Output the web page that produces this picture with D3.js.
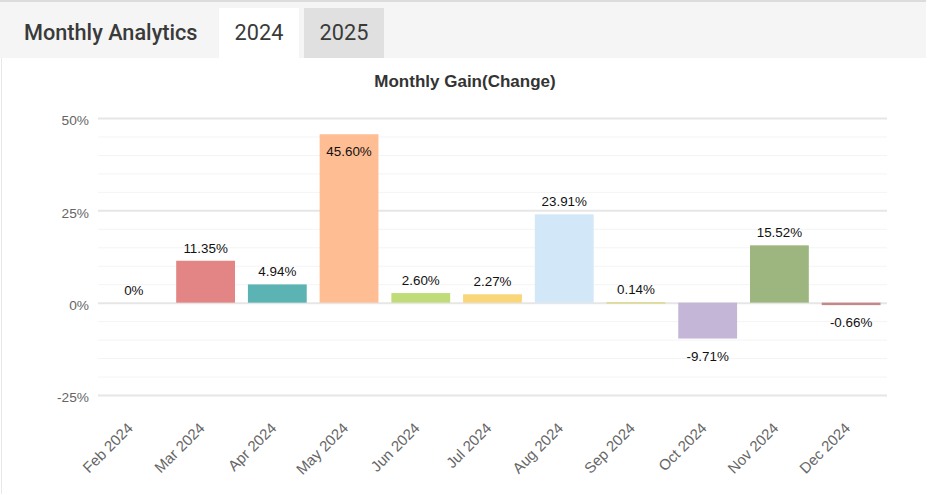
<!DOCTYPE html>
<html>
<head>
<meta charset="utf-8">
<script src="https://cdn.jsdelivr.net/npm/d3@7"></script>
<style>
  html, body { margin: 0; padding: 0; background: #fff; }
  body { width: 926px; height: 494px; overflow: hidden; }
</style>
</head>
<body>
<svg id="chart" width="926" height="494"></svg>
<script>
// data
var months = ['Feb 2024','Mar 2024','Apr 2024','May 2024','Jun 2024','Jul 2024','Aug 2024','Sep 2024','Oct 2024','Nov 2024','Dec 2024'];
var gains = [0, 11.35, 4.94, 45.60, 2.60, 2.27, 23.91, 0.14, -9.71, 15.52, -0.66];
var barColors = ['#cccccc','#e28584','#5bb4b3','#ffbd94','#c0dc78','#f9d679','#d2e7f8','#dcd88c','#c4b6d7','#9db67f','#c58888'];
var yTicks = [-25, 0, 25, 50];
var tabs = ['2024', '2025'];

const svg = d3.select('#chart');

// header strip
svg.append('rect').attr('x', 0).attr('y', 0).attr('width', 926).attr('height', 58).attr('fill', '#f5f5f5');
svg.append('line').attr('x1', 0).attr('x2', 926).attr('y1', 1).attr('y2', 1).style('stroke', '#dcdcdc').style('stroke-width', 2);
svg.append('line').attr('x1', 1.5).attr('x2', 1.5).attr('y1', 58).attr('y2', 494).style('stroke', '#e8e8e8');
svg.append('text').attr('x', 24).attr('y', 40)
  .style('font-family', 'Roboto').style('font-weight', 500).style('font-size', '21.7px')
  .style('fill', '#3a3a3a').text('Monthly Analytics');

var tabG = svg.append('g').selectAll('g').data(tabs).enter().append('g')
  .attr('transform', function(d, i) { return 'translate(' + (219 + i * 85) + ',8)'; });
tabG.append('rect').attr('width', 80).attr('height', 50)
  .attr('fill', function(d, i) { return i == 0 ? '#ffffff' : '#e0e0e0'; });
tabG.append('text').attr('x', 40).attr('y', 32).attr('text-anchor', 'middle')
  .style('font-family', 'Roboto').style('font-size', '21.7px').style('fill', '#3a3a3a')
  .text(function(d) { return d; });

// chart
var plotLeft = 98, plotRight = 887, plotTop = 118, plotBottom = 395;
var x = d3.scaleBand().domain(months).range([plotLeft, plotRight]).paddingInner(0.18).paddingOuter(0.09);
var y = d3.scaleLinear().domain([-25, 50]).range([plotBottom, plotTop]);

svg.append('text').attr('x', 465).attr('y', 87).attr('text-anchor', 'middle')
  .style('font-family', 'Arial, "Liberation Sans"').style('font-weight', 'bold').style('font-size', '17px')
  .style('fill', '#333').text('Monthly Gain(Change)');

// minor grid every 5%
var minor = d3.range(-25, 51, 5).filter(function(v) { return yTicks.indexOf(v) < 0; });
svg.append('g').selectAll('line').data(minor).enter().append('line')
  .attr('x1', plotLeft).attr('x2', plotRight)
  .attr('y1', function(d) { return y(d) + 0.5; }).attr('y2', function(d) { return y(d) + 0.5; })
  .style('stroke', '#f4f4f4');

var yAxis = svg.append('g').attr('transform', 'translate(' + plotLeft + ',0)')
  .call(d3.axisLeft(y).tickValues(yTicks).tickSize(-(plotRight - plotLeft)).tickPadding(9)
    .tickFormat(function(d) { return d + '%'; }));
yAxis.select('.domain').remove();
yAxis.selectAll('.tick line').style('stroke', '#e6e6e6').style('stroke-width', 2);
yAxis.selectAll('.tick text').attr('dy', '0.5em')
  .style('font-family', 'Arial, "Liberation Sans"').style('font-size', '13.7px').style('fill', '#666');

// bars
svg.append('g').selectAll('rect').data(gains).enter().append('rect')
  .attr('x', function(d, i) { return x(months[i]); })
  .attr('width', x.bandwidth())
  .attr('y', function(d) { return d >= 0 ? y(d) : y(0); })
  .attr('height', function(d) { return Math.max(Math.abs(y(d) - y(0)), d == 0 ? 0 : 1.5); })
  .attr('fill', function(d, i) { return barColors[i]; });

// value labels
svg.append('g').selectAll('text').data(gains).enter().append('text')
  .attr('x', function(d, i) { return x(months[i]) + x.bandwidth() / 2; })
  .attr('y', function(d) {
    if (d > 40) return y(d) + 22;
    if (d >= 0) return y(d) - 8;
    return y(d) + 22;
  })
  .attr('text-anchor', 'middle')
  .style('font-family', 'Arial, "Liberation Sans"').style('font-size', '13.4px').style('fill', '#111')
  .text(function(d) { return d == 0 ? '0%' : d.toFixed(2) + '%'; });

// x labels
svg.append('g').selectAll('text').data(months).enter().append('text')
  .attr('transform', function(d) { return 'translate(' + (x(d) + x.bandwidth() / 2) + ',429) rotate(-45)'; })
  .attr('text-anchor', 'end')
  .style('font-family', 'Arial, "Liberation Sans"').style('font-size', '15px').style('fill', '#666')
  .text(function(d) { return d; });
</script>
</body>
</html>
